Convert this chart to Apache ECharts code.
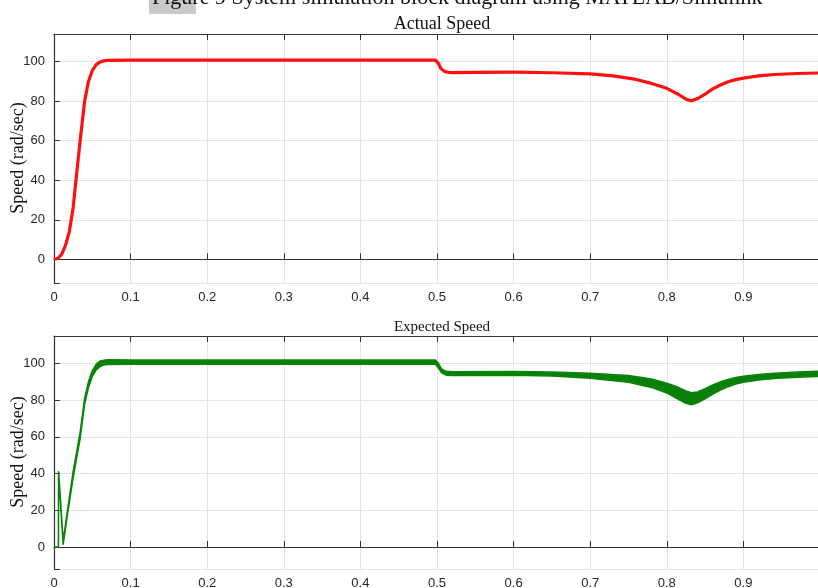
<!DOCTYPE html>
<html>
<head>
<meta charset="utf-8">
<script src="https://cdn.jsdelivr.net/npm/echarts@6/dist/echarts.min.js"></script>
<style>
  html, body { margin: 0; padding: 0; background: #fff; }
  #chart { width: 818px; height: 588px; }
</style>
</head>
<body>
<div id="chart"></div>
<script>
// time axis ticks (s)
var xTicks = [0, 0.1, 0.2, 0.3, 0.4, 0.5, 0.6, 0.7, 0.8, 0.9];
var yTicks = [0, 20, 40, 60, 80, 100];

// Actual Speed (red)
var redT = [0, 0.005, 0.01, 0.015, 0.02, 0.025, 0.03, 0.035, 0.04, 0.045, 0.05, 0.055, 0.06, 0.065, 0.07,
    0.1, 0.2, 0.3, 0.4, 0.498, 0.502, 0.505, 0.51, 0.515, 0.52, 0.55, 0.6, 0.65, 0.7, 0.73, 0.76, 0.78,
    0.8, 0.815, 0.825, 0.832, 0.84, 0.85, 0.86, 0.87, 0.88, 0.89, 0.9, 0.92, 0.94, 0.97, 1.0];
var redV = [0, 0.5, 2.5, 7, 14, 26, 45, 63, 80, 90, 95.5, 98.5, 99.8, 100.4, 100.7,
    100.8, 100.8, 100.8, 100.8, 100.8, 99, 96.5, 95, 94.6, 94.5, 94.6, 94.7, 94.4, 93.8, 92.8, 91, 89,
    86.5, 83.5, 81, 80.2, 81.3, 83.6, 86.2, 88.2, 89.8, 90.9, 91.7, 92.8, 93.5, 94, 94.3];

// Expected Speed (green), ripple band: lower / upper envelope
var greenT = [0, 0.0058, 0.006, 0.012, 0.018, 0.025, 0.034, 0.04, 0.045, 0.05, 0.055, 0.06, 0.065, 0.07,
    0.1, 0.2, 0.3, 0.4, 0.498, 0.502, 0.506, 0.512, 0.52, 0.6, 0.65, 0.7, 0.75, 0.78, 0.8, 0.815,
    0.825, 0.832, 0.84, 0.85, 0.86, 0.87, 0.88, 0.89, 0.9, 0.92, 0.94, 0.97, 1.0];
var greenLow = [0, 0, 40, 1.5, 19, 38, 59, 78, 87, 93, 96.5, 98.3, 99.2, 99.5,
    99.6, 99.6, 99.6, 99.6, 99.6, 97.5, 95, 93.7, 93.5, 93.6, 93.2, 92, 89.8, 87, 84, 80.5,
    78.3, 77.6, 78.6, 80.8, 83.3, 85.6, 87.4, 88.8, 89.8, 91.1, 91.9, 92.6, 93];
var greenHigh = [0, 0, 41, 3, 21, 41, 62, 81, 90, 96, 99.5, 101.3, 101.8, 102,
    101.9, 101.9, 101.9, 101.9, 101.9, 100, 97, 95.7, 95.5, 95.6, 95.3, 94.7, 93.5, 91.5, 89.3, 87,
    85, 84, 84.5, 86.3, 88.3, 90, 91.3, 92.3, 93, 94, 94.7, 95.3, 95.8];

function pairs(t, v) {
    var out = [];
    for (var i = 0; i < t.length; i++) out.push([t[i], v[i]]);
    return out;
}
var bandRows = [];
for (var k = 0; k < greenT.length; k++) bandRows.push([greenT[k], greenLow[k], greenHigh[k]]);

var frameColor = '#333333';
var gridColor = '#e3e3e3';
var serif = '"Liberation Serif", "Times New Roman", serif';
var labelStyle = { color: '#262626', fontSize: 13, fontFamily: 'Liberation Sans, Arial, sans-serif' };

function bottomX(gridIndex) {
    return {
        type: 'value', gridIndex: gridIndex, min: 0, max: 1, interval: 0.1,
        axisLine: { show: true, lineStyle: { color: frameColor, width: 1.2 } },
        axisTick: { show: true, inside: true, length: 6, lineStyle: { color: frameColor } },
        axisLabel: Object.assign({
            margin: 8,
            formatter: function(v) { return xTicks.indexOf(Math.round(v * 10) / 10) >= 0 ? String(Math.round(v * 10) / 10) : ''; }
        }, labelStyle),
        splitLine: { show: true, lineStyle: { color: gridColor, width: 1 } }
    };
}
function topX(gridIndex) {
    return {
        type: 'value', gridIndex: gridIndex, position: 'top', min: 0, max: 1, interval: 0.1,
        axisLine: { show: true, lineStyle: { color: frameColor, width: 1.2 } },
        axisTick: { show: true, inside: true, length: 6, lineStyle: { color: frameColor } },
        axisLabel: { show: false },
        splitLine: { show: false }
    };
}
function leftY(gridIndex, max) {
    return {
        type: 'value', gridIndex: gridIndex, min: -12, max: max,
        splitNumber: 6, minInterval: 20, maxInterval: 20,
        axisLine: { show: true, lineStyle: { color: frameColor, width: 1.2 } },
        axisTick: { show: true, inside: true, length: 6, lineStyle: { color: frameColor } },
        axisLabel: Object.assign({
            margin: 9,
            formatter: function(v) { return yTicks.indexOf(v) >= 0 ? String(v) : ''; }
        }, labelStyle),
        splitLine: { show: true, lineStyle: { color: gridColor, width: 1 } }
    };
}

// filled ripple band between the lower and upper envelopes
function renderBand(params, api) {
    if (params.dataIndex !== 0) return null;
    var upper = [], lower = [];
    for (var i = 0; i < bandRows.length; i++) {
        upper.push(api.coord([bandRows[i][0], bandRows[i][2]]));
        lower.unshift(api.coord([bandRows[i][0], bandRows[i][1]]));
    }
    return {
        type: 'polygon',
        shape: { points: upper.concat(lower) },
        style: { fill: '#0a800a', stroke: '#0a850a', lineWidth: 1.6, lineJoin: 'round' }
    };
}

function yName(cy) {
    return {
        type: 'text', x: 18, y: cy, rotation: Math.PI / 2, z: 5,
        style: { text: 'Speed (rad/sec)', font: '18px ' + serif, fill: '#111',
            textAlign: 'center', textVerticalAlign: 'middle' }
    };
}

var chart = echarts.init(document.getElementById('chart'));
chart.setOption({
    animation: false,
    backgroundColor: '#ffffff',
    title: [{
        text: 'Actual Speed', left: 437, top: 10, textAlign: 'center',
        textStyle: { fontFamily: serif, fontWeight: 'normal', fontSize: 18, color: '#111' }
    }, {
        text: 'Expected Speed', left: 437, top: 315, textAlign: 'center',
        textStyle: { fontFamily: serif, fontWeight: 'normal', fontSize: 15, color: '#111' }
    }],
    graphic: [{
        type: 'rect', left: 149, top: 0, shape: { width: 47, height: 14 }, style: { fill: '#c9c9c9' }, z: 1
    }, {
        type: 'text', left: 152, top: -13, z: 2,
        style: { text: 'Figure 9 System simulation block diagram using MATLAB/Simulink',
            font: '22px ' + serif, fill: '#111' }
    }, yName(158), yName(452)],
    grid: [
        { left: 54, right: -2, top: 34, height: 249, containLabel: false, outerBoundsMode: 'none' },
        { left: 54, right: -2, top: 336, height: 233, containLabel: false, outerBoundsMode: 'none' }
    ],
    xAxis: [bottomX(0), topX(0), bottomX(1), topX(1)],
    yAxis: [leftY(0, 114), leftY(1, 115)],
    series: [{
        name: 'Actual Speed', type: 'line', xAxisIndex: 0, yAxisIndex: 0,
        data: pairs(redT, redV), showSymbol: false, symbol: 'none',
        lineStyle: { color: '#ff1010', width: 3.2, join: 'round' }
    }, {
        name: 'Expected Speed', type: 'custom', xAxisIndex: 2, yAxisIndex: 1,
        data: bandRows, encode: { x: 0, y: [1, 2] },
        renderItem: renderBand, clip: true
    }]
});
</script>
</body>
</html>
